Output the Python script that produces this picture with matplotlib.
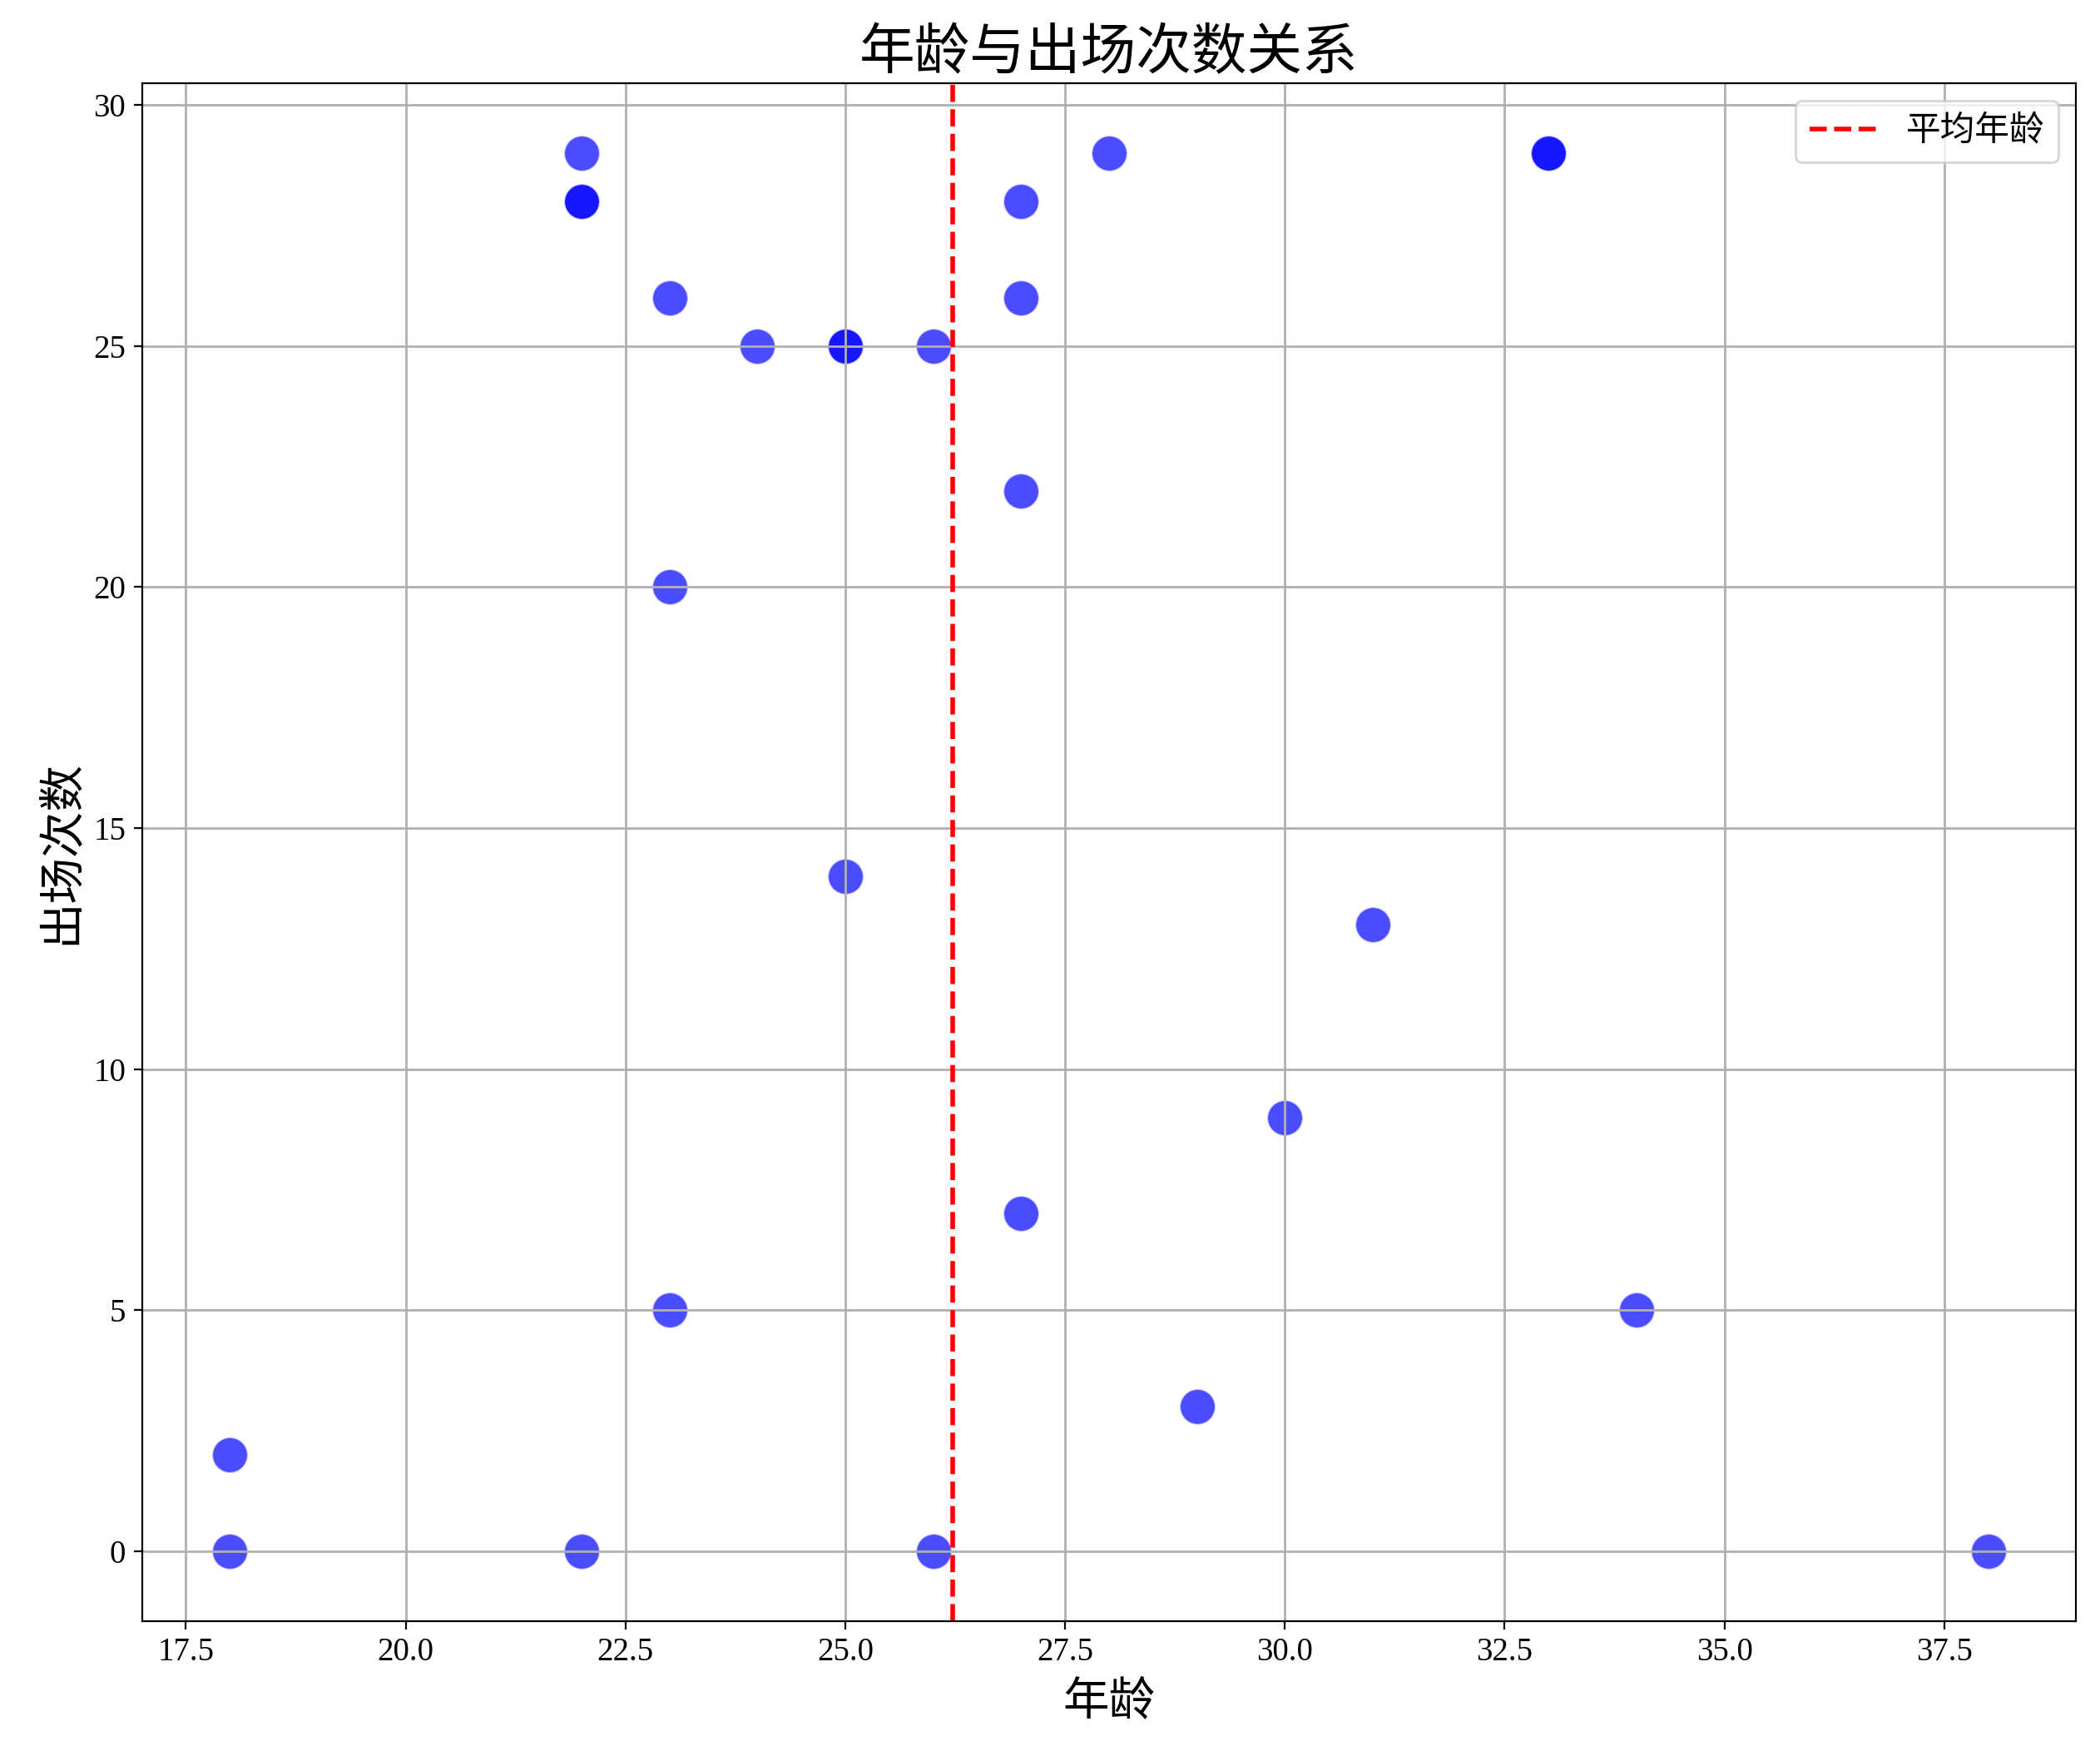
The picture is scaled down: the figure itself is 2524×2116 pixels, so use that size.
import numpy as np
import matplotlib
matplotlib.use("Agg")
import matplotlib.pyplot as plt

plt.rcParams['font.family'] = ['Liberation Serif', 'Noto Sans CJK SC', 'DejaVu Sans']

# age of each player and number of appearances
age = [18, 18, 22, 22, 22, 22, 23, 23, 23, 24, 25, 25, 25, 26, 26,
       27, 27, 27, 27, 28, 29, 30, 31, 33, 33, 34, 38]
apps = [2, 0, 29, 28, 28, 0, 26, 20, 5, 25, 25, 25, 14, 25, 0,
        28, 26, 22, 7, 29, 3, 9, 13, 29, 29, 5, 0]

mean_age = np.mean(age)

fig = plt.figure(figsize=(12.62, 10.58), dpi=200)
ax = fig.add_axes([0.0676, 0.0794, 0.921, 0.8733])

ax.scatter(age, apps, s=240, c='blue', alpha=0.7, edgecolors='white', linewidths=0.8)
ax.axvline(mean_age, color='red', linestyle='--', linewidth=2, label='平均年龄')

ax.set_title('年龄与出场次数关系', fontsize=24, family=['Noto Sans CJK SC'])
ax.set_xlabel('年龄', fontsize=20, family=['Noto Sans CJK SC'])
ax.set_ylabel('出场次数', fontsize=20, family=['Noto Sans CJK SC'])
ax.tick_params(labelsize=14)
ax.grid(True, color='#b0b0b0', linewidth=1)
ax.legend(loc='upper right', prop={'family': ['Noto Sans CJK SC'], 'size': 15})

plt.savefig("out.png", dpi=200)
